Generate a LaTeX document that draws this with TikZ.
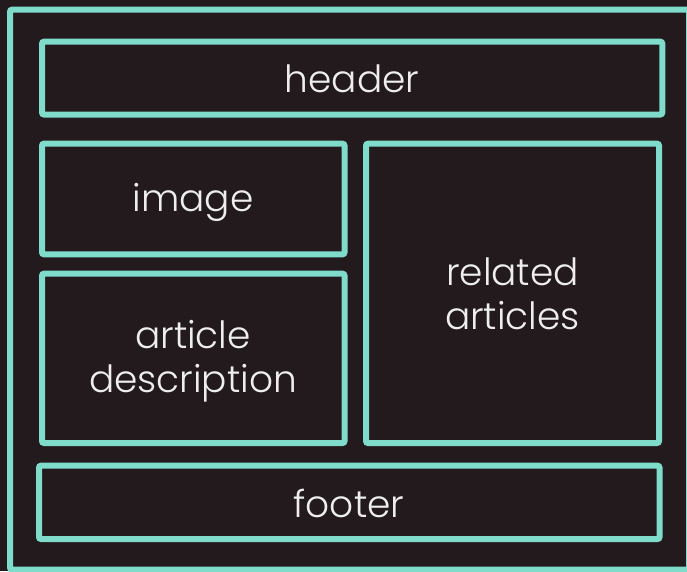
\documentclass[tikz,border=0pt]{standalone}
\usepackage{fontspec}
\setmainfont{Poppins}[UprightFont=* Light]
\definecolor{bgdark}{HTML}{221A1C}
\definecolor{teal}{HTML}{7FDBCA}
\definecolor{txt}{HTML}{EEEEEE}
\begin{document}
\begin{tikzpicture}[x=1pt,y=-1pt,
  panel/.style={draw=teal,line width=6pt,rounded corners=2pt},
  lbl/.style={text=txt,font=\fontsize{37.5}{44}\selectfont,align=center,inner sep=0pt}]
\useasboundingbox (0,0) rectangle (687,571);
\fill[bgdark] (0,0) rectangle (687,571);
\draw[panel] (10,9.7) rectangle (689,569.5);
\draw[panel] (42,41.7) rectangle (662.3,114.5);
\draw[panel] (42,143.7) rectangle (344.5,254.3);
\draw[panel] (42,273.7) rectangle (344.5,443);
\draw[panel] (366,143.7) rectangle (659,443);
\draw[panel] (39,465.7) rectangle (659.5,539);
\node[lbl] (header) at (352,79) {header};
\node[lbl] (image) at (193,202) {image};
\node[lbl] (article) at (193,361) {article\\description};
\node[lbl] (related) at (512.5,294) {related\\articles};
\node[lbl] (footer) at (349,503.5) {footer};
\end{tikzpicture}
\end{document}
